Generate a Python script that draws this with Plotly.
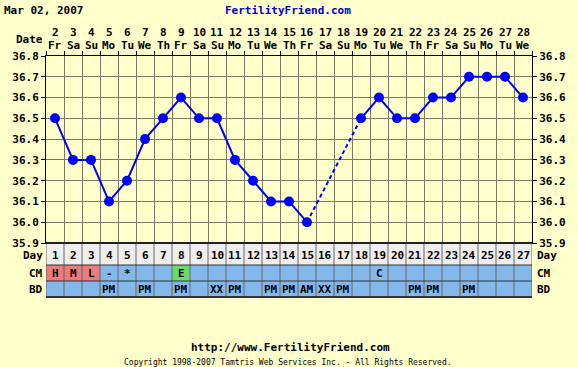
import plotly.graph_objects as go

# ---------------- data ----------------
title_date = "Mar 02, 2007"
site_title = "FertilityFriend.com"
footer_url = "http://www.FertilityFriend.com"
footer_copy = "Copyright 1998-2007 Tamtris Web Services Inc. - All Rights Reserved."

days = list(range(1, 28))
dates = list(range(2, 29))
weekdays = ["Fr", "Sa", "Su", "Mo", "Tu", "We", "Th",
            "Fr", "Sa", "Su", "Mo", "Tu", "We", "Th",
            "Fr", "Sa", "Su", "Mo", "Tu", "We", "Th",
            "Fr", "Sa", "Su", "Mo", "Tu", "We"]
temps = [36.5, 36.3, 36.3, 36.1, 36.2, 36.4, 36.5, 36.6, 36.5, 36.5,
         36.3, 36.2, 36.1, 36.1, 36.0, None, None, 36.5, 36.6, 36.5,
         36.5, 36.6, 36.6, 36.7, 36.7, 36.7, 36.6]
cm = ["H", "M", "L", "-", "*", "", "", "E", "", "", "", "", "", "", "",
      "", "", "", "C", "", "", "", "", "", "", "", ""]
bd = ["", "", "", "PM", "", "PM", "", "PM", "", "XX", "PM", "", "PM", "PM",
      "AM", "XX", "PM", "", "", "", "PM", "PM", "", "PM", "", "", ""]
y_ticks = [35.9, 36.0, 36.1, 36.2, 36.3, 36.4, 36.5, 36.6, 36.7, 36.8]

# ---------------- style ----------------
W, H = 578, 367
MT, MB, ML, MR = 56, 70, 46, 46
PH = H - MT - MB
PW = W - ML - MR
def yp(px):
    return (H - MB - px) / PH
def xp(px):
    return (px - ML) / PW

BG = "#FFFFCC"
GRID = "#7A7A66"
BLUE = "#0000FF"
MONO = "DejaVu Sans Mono"
FS = 11
cm_fill = {"H": "#EE7B7B", "M": "#EE7B7B", "L": "#EE7B7B", "E": "#66DD66"}
ROW_BLUE = "#84B8EA"
DAY_BG = "#EEEEEE"

fig = go.Figure()

# solid temperature line with gaps
fig.add_trace(go.Scatter(x=days, y=temps, mode="lines+markers", connectgaps=False,
                         line=dict(color=BLUE, width=2),
                         marker=dict(color=BLUE, size=10),
                         hoverinfo="skip", showlegend=False))
# dashed bridges across missing days
i = 0
while i < len(temps):
    if temps[i] is None:
        j = i
        while j < len(temps) and temps[j] is None:
            j += 1
        if i > 0 and j < len(temps):
            fig.add_trace(go.Scatter(x=[days[i - 1], days[j]], y=[temps[i - 1], temps[j]],
                                     mode="lines", line=dict(color=BLUE, width=2, dash="4px,3px"),
                                     hoverinfo="skip", showlegend=False))
        i = j
    else:
        i += 1
# dummy trace for right axis
fig.add_trace(go.Scatter(x=[days[0]], y=[temps[0]], yaxis="y2", mode="markers",
                         marker=dict(opacity=0), hoverinfo="skip", showlegend=False))

tick_text = ["%.1f" % v for v in y_ticks]
boundaries = [d - 0.5 for d in days] + [days[-1] + 0.5]
font_b = dict(family=MONO, size=FS, color="black", weight="bold")

shapes = []
annotations = []

def ann(x, y, text, xref="paper", xanchor="center", font=font_b):
    annotations.append(dict(x=x, y=y, xref=xref, yref="paper", text=text, showarrow=False,
                            xanchor=xanchor, yanchor="middle", font=font))

# table rows
y_day_top, y_day_bot, y_cm_bot, y_bd_bot = 243, 265, 281, 297
shapes.append(dict(type="rect", xref="paper", yref="paper", x0=0, x1=1,
                   y0=yp(y_day_bot), y1=yp(y_day_top), fillcolor=DAY_BG, line_width=0, layer="below"))
shapes.append(dict(type="rect", xref="paper", yref="paper", x0=0, x1=1,
                   y0=yp(y_bd_bot), y1=yp(y_day_bot), fillcolor=ROW_BLUE, line_width=0, layer="below"))
for d, c in zip(days, cm):
    if c in cm_fill:
        shapes.append(dict(type="rect", xref="x", yref="paper", x0=d - 0.5, x1=d + 0.5,
                           y0=yp(y_cm_bot), y1=yp(y_day_bot), fillcolor=cm_fill[c],
                           line_width=0, layer="below"))
# vertical separators in table
for b in boundaries:
    shapes.append(dict(type="line", xref="x", yref="paper", x0=b, x1=b,
                       y0=yp(y_bd_bot), y1=yp(y_day_top), line=dict(color="#666666", width=1)))
for yy, col, wd in [(y_day_top, "#222222", 2), (y_day_bot, "#333333", 1),
                    (y_cm_bot, "#333333", 1), (y_bd_bot, "#333333", 2)]:
    shapes.append(dict(type="line", xref="paper", yref="paper", x0=0, x1=1,
                       y0=yp(yy), y1=yp(yy), line=dict(color=col, width=wd)))

# row texts
for d, c, b in zip(days, cm, bd):
    ann(d, yp(255), str(d), xref="x")
    if c:
        ann(d, yp(273), c, xref="x")
    if b:
        ann(d, yp(289), b, xref="x")
for lbl, yc in [("Day", 255), ("CM", 273), ("BD", 289)]:
    ann(xp(45), yp(yc), lbl, xanchor="right")
    ann(xp(535), yp(yc), lbl, xanchor="left")

# date header
for d, dt, wd in zip(days, dates, weekdays):
    ann(d, yp(33), str(dt), xref="x")
    ann(d, yp(46), wd, xref="x")
ann(xp(45), yp(39), "Date", xanchor="right")

# titles
ann(xp(2), yp(10), title_date, xanchor="left")
ann(xp(288), yp(10), site_title, font=dict(family=MONO, size=FS, color="#0000CC", weight="bold"))
ann(xp(290), yp(347), footer_url)
ann(xp(288), yp(362), footer_copy, font=dict(family=MONO, size=8, color="black"))

axis_common = dict(range=[y_ticks[0], y_ticks[-1]], tickvals=y_ticks, ticktext=tick_text,
                   ticks="outside", ticklen=4, tickcolor="black",
                   tickfont=font_b, zeroline=False,
                   domain=[yp(y_day_top), 1])

fig.update_layout(
    width=W, height=H, margin=dict(l=ML, r=MR, t=MT, b=MB),
    paper_bgcolor=BG, plot_bgcolor=BG,
    xaxis=dict(range=[boundaries[0], boundaries[-1]], tickvals=boundaries, showticklabels=False,
               side="top", ticks="outside", ticklen=4, tickcolor="black",
               showgrid=True, gridcolor=GRID, gridwidth=1, zeroline=False,
               showline=True, mirror=True, linecolor="black", linewidth=1, anchor="y"),
    yaxis=dict(**axis_common, showgrid=True, gridcolor=GRID, side="left",
               showline=True, linecolor="black", linewidth=1),
    yaxis2=dict(**axis_common, overlaying="y", side="right", showgrid=False,
                showline=True, linecolor="black", linewidth=1),
    shapes=shapes, annotations=annotations, showlegend=False,
)

fig.write_html("out.html", config={"displayModeBar": False},
               post_script="document.body.style.margin='0';document.body.style.background='#FFFFCC';")
